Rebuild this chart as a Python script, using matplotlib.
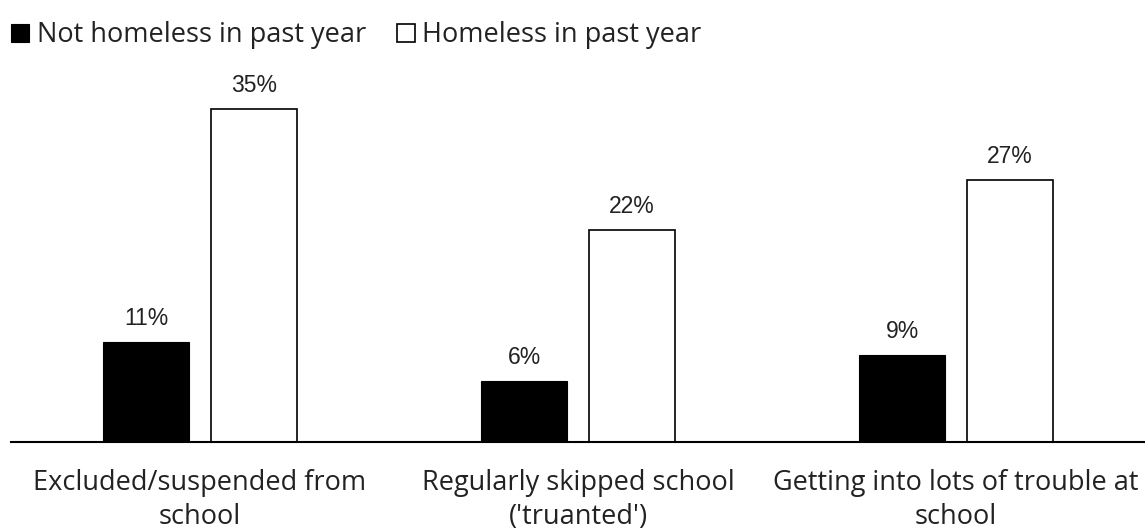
import matplotlib
matplotlib.use("Agg")
import matplotlib.pyplot as plt
from matplotlib.patches import Patch
import numpy as np

categories = ["Excluded/suspended from\nschool",
              "Regularly skipped school\n('truanted')",
              "Getting into lots of trouble at\nschool"]
series_names = ["Not homeless in past year", "Homeless in past year"]
not_homeless = [10.5, 6.4, 9.1]
homeless = [35.0, 22.3, 27.5]
not_homeless_labels = ["11%", "6%", "9%"]
homeless_labels = ["35%", "22%", "27%"]

W, H = 1145, 529
fig = plt.figure(figsize=(W / 100, H / 100), dpi=100)
base_px = 441.7
ymax = 40
scale = 9.506
ax_h = ymax * scale
ax = fig.add_axes([11 / W, (H - base_px) / H, 1 - 11 / W, ax_h / H])

x = np.arange(len(categories))
bw = 0.229
off = 0.1425
b1 = ax.bar(x - off, not_homeless, bw, color="black", edgecolor="black", linewidth=0.8)
b2 = ax.bar(x + off, homeless, bw, color="white", edgecolor="black", linewidth=1.2)

lab_font = dict(family=["Liberation Sans", "DejaVu Sans"], fontsize=16.5, color="#222222")
for bars, labs in ((b1, not_homeless_labels), (b2, homeless_labels)):
    for rect, lab in zip(bars, labs):
        ax.annotate(lab, (rect.get_x() + rect.get_width() / 2, rect.get_height()),
                    xytext=(0, 8.5), textcoords="offset points",
                    ha="center", va="bottom", **lab_font)

text_font = ["Open Sans", "DejaVu Sans"]
ax.set_xlim(-0.5, 2.5)
ax.set_ylim(0, ymax)
ax.set_yticks([])
ax.set_xticks(x)
ax.set_xticklabels(categories, fontsize=19.5, family=text_font,
                   color="#222222", linespacing=1.27)
ax.tick_params(axis="x", length=0, pad=20)
for s in ("top", "right", "left"):
    ax.spines[s].set_visible(False)
ax.spines["bottom"].set_linewidth(1.5)
ax.spines["bottom"].set_color("black")

handles = [Patch(facecolor="black", edgecolor="black", linewidth=0.8),
           Patch(facecolor="white", edgecolor="black", linewidth=1.2)]
fig.legend(handles, series_names, loc="upper left", bbox_to_anchor=(6 / W, 1 - 16 / H),
           ncol=2, frameon=False, handlelength=0.65, handleheight=0.65,
           handletextpad=0.28, columnspacing=1.15, borderpad=0.2, borderaxespad=0,
           prop=dict(family=text_font, size=19.5))
for t in fig.legends[0].get_texts():
    t.set_color("#222222")

fig.savefig("out.png", dpi=100)
